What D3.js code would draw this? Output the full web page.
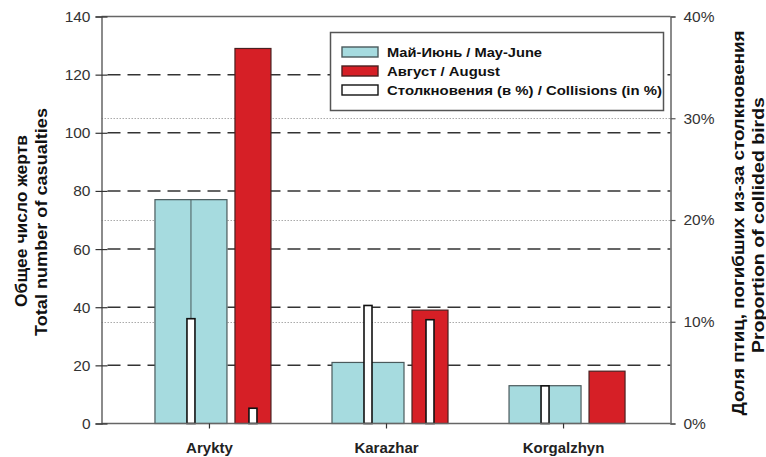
<!DOCTYPE html>
<html><head><meta charset="utf-8">
<script src="https://cdn.jsdelivr.net/npm/d3@7"></script>
<style>body{margin:0;background:#fff}svg{display:block}text{font-family:"Liberation Sans",Arial,sans-serif}</style>
</head><body>
<svg id="c" width="766" height="457"></svg>
<script>
const categories = ["Arykty", "Karazhar", "Korgalzhyn"];
const mayJune = [77, 21, 13];
const august = [129, 39, 18];
const collMayJune = [10.3, 11.6, 3.7];
const collAugust = [1.5, 10.2, 0];
const leftTicks = [0, 20, 40, 60, 80, 100, 120, 140];
const rightTicks = [0, 10, 20, 30, 40];
const legendLabels = ["Май-Июнь / May-June", "Август / August", "Столкновения (в %) / Collisions (in %)"];
const leftTitle = ["Общее число жертв", "Total number of casualties"];
const rightTitle = ["Доля птиц, погибших из-за столкновения", "Proportion of collided birds"];

const svg = d3.select("#c");
const L = 101.5, R = 670.5, T = 16.5, B = 423.5;
const y = d3.scaleLinear().domain([0, 140]).range([B, T]);
const y2 = d3.scaleLinear().domain([0, 40]).range([B, T]);
const x = d3.scalePoint().domain(categories).range([L, R]).padding(0.607);

const g = svg.append("g");
// dotted gridlines (right axis)
g.selectAll(".dot").data(rightTicks.filter(d => d > 0 && d < 40)).join("line")
  .attr("x1", L).attr("x2", R).attr("y1", d => Math.round(y2(d)) + 0.5).attr("y2", d => Math.round(y2(d)) + 0.5)
  .attr("stroke", "#aaa").attr("stroke-width", 1).attr("stroke-dasharray", "1.5,1.5");
// dashed gridlines (left axis)
g.selectAll(".dash").data(leftTicks.filter(d => d > 0 && d < 140)).join("line")
  .attr("x1", L).attr("x2", R).attr("y1", d => y(d)).attr("y2", d => y(d))
  .attr("stroke", "#333").attr("stroke-width", 1.5).attr("stroke-dasharray", "13,7").attr("stroke-dashoffset", -6);

// bars
const mj = [-54, 18], au = [26, 62], cw = 8;
const bars = g.append("g");
bars.selectAll(".mj").data(categories).join("rect")
  .attr("x", (d) => x(d) + mj[0]).attr("width", mj[1] - mj[0])
  .attr("y", (d, i) => y(mayJune[i])).attr("height", (d, i) => B - y(mayJune[i]))
  .attr("fill", "#a6dbdf").attr("stroke", "#4a5a5c").attr("stroke-width", 1.2);
bars.selectAll(".au").data(categories).join("rect")
  .attr("x", (d) => x(d) + au[0]).attr("width", au[1] - au[0])
  .attr("y", (d, i) => y(august[i])).attr("height", (d, i) => B - y(august[i]))
  .attr("fill", "#d61f26").attr("stroke", "#4a2020").attr("stroke-width", 1.2);
// drop line inside May-June bars
bars.selectAll(".drop").data(categories.filter((d, i) => y(mayJune[i]) < y2(collMayJune[i]) - 2)).join("line")
  .attr("x1", d => x(d) + (mj[0] + mj[1]) / 2).attr("x2", d => x(d) + (mj[0] + mj[1]) / 2)
  .attr("y1", d => y(mayJune[categories.indexOf(d)]))
  .attr("y2", d => y2(collMayJune[categories.indexOf(d)]))
  .attr("stroke", "#4a5a5c").attr("stroke-width", 1);
// collision bars
const collRects = [];
categories.forEach((c, i) => {
  collRects.push({c, v: collMayJune[i], cx: x(c) + (mj[0] + mj[1]) / 2});
  collRects.push({c, v: collAugust[i], cx: x(c) + (au[0] + au[1]) / 2});
});
bars.selectAll(".coll").data(collRects.filter(d => d.v > 0)).join("rect")
  .attr("x", d => d.cx - cw / 2).attr("width", cw)
  .attr("y", d => y2(d.v)).attr("height", d => B - y2(d.v))
  .attr("fill", "#fff").attr("stroke", "#111").attr("stroke-width", 1.6);

// axes
const axisColor = "#666";
g.append("line").attr("x1", L).attr("x2", R).attr("y1", T).attr("y2", T).attr("stroke", axisColor).attr("stroke-width", 1.3);
g.append("line").attr("x1", L).attr("x2", R).attr("y1", B).attr("y2", B).attr("stroke", axisColor).attr("stroke-width", 1.5);
const la = g.append("g").attr("transform", `translate(${L},0)`)
  .call(d3.axisLeft(y).tickValues(leftTicks).tickSize(6).tickPadding(5));
la.select(".domain").attr("stroke", axisColor).attr("stroke-width", 1.5);
la.selectAll(".tick line").attr("stroke", "#333").attr("stroke-width", 1.2).attr("x2", -6).attr("x1", 6);
la.selectAll("text").attr("font-size", 15.5).attr("fill", "#333").attr("font-family", "Liberation Sans, Arial");
const ra = g.append("g").attr("transform", `translate(${R},0)`)
  .call(d3.axisRight(y2).tickValues(rightTicks).tickFormat(d => d + "%").tickSize(5).tickPadding(8));
ra.select(".domain").attr("stroke", axisColor).attr("stroke-width", 1.5);
ra.selectAll(".tick line").attr("stroke", "#555").attr("stroke-width", 1.2);
ra.selectAll("text").attr("font-size", 15.5).attr("fill", "#333").attr("font-family", "Liberation Sans, Arial");
const ba = g.append("g").attr("transform", `translate(0,${B})`)
  .call(d3.axisBottom(x).tickSize(5).tickPadding(14));
ba.select(".domain").remove();
ba.selectAll(".tick line").attr("stroke", "#333").attr("stroke-width", 1.2);
ba.selectAll("text").attr("font-size", 15).attr("font-weight", "bold").attr("fill", "#222").attr("font-family", "Liberation Sans, Arial");

// axis titles
function title(t, tx, ty, len) {
  svg.append("text").attr("transform", `translate(${tx},${ty}) rotate(-90)`).attr("text-anchor", "middle")
    .attr("font-size", 16.5).attr("font-weight", "bold").attr("fill", "#111")
    .attr("textLength", len).attr("lengthAdjust", "spacingAndGlyphs").text(t);
}
title(leftTitle[0], 27, 221, 172);
title(leftTitle[1], 47, 222, 228);
title(rightTitle[0], 744, 223, 385);
title(rightTitle[1], 764, 225, 256);

// legend
const lg = svg.append("g");
lg.append("rect").attr("x", 330.5).attr("y", 32.5).attr("width", 333).attr("height", 78)
  .attr("fill", "#fff").attr("stroke", "#555").attr("stroke-width", 1.5);
const fills = ["#a6dbdf", "#d61f26", "#fff"], strokes = ["#4a5a5c", "#4a2020", "#111"];
const legLens = [155, 113, 275];
legendLabels.forEach((t, i) => {
  const cy = 52 + i * 19;
  lg.append("rect").attr("x", 342).attr("y", cy - 5).attr("width", 36).attr("height", 10)
    .attr("fill", fills[i]).attr("stroke", strokes[i]).attr("stroke-width", 1.4);
  lg.append("text").attr("x", 387).attr("y", cy + 5).attr("font-size", 13.5).attr("font-weight", "bold")
    .attr("fill", "#111").attr("textLength", legLens[i]).attr("lengthAdjust", "spacingAndGlyphs").text(t);
});
</script>
</body></html>
